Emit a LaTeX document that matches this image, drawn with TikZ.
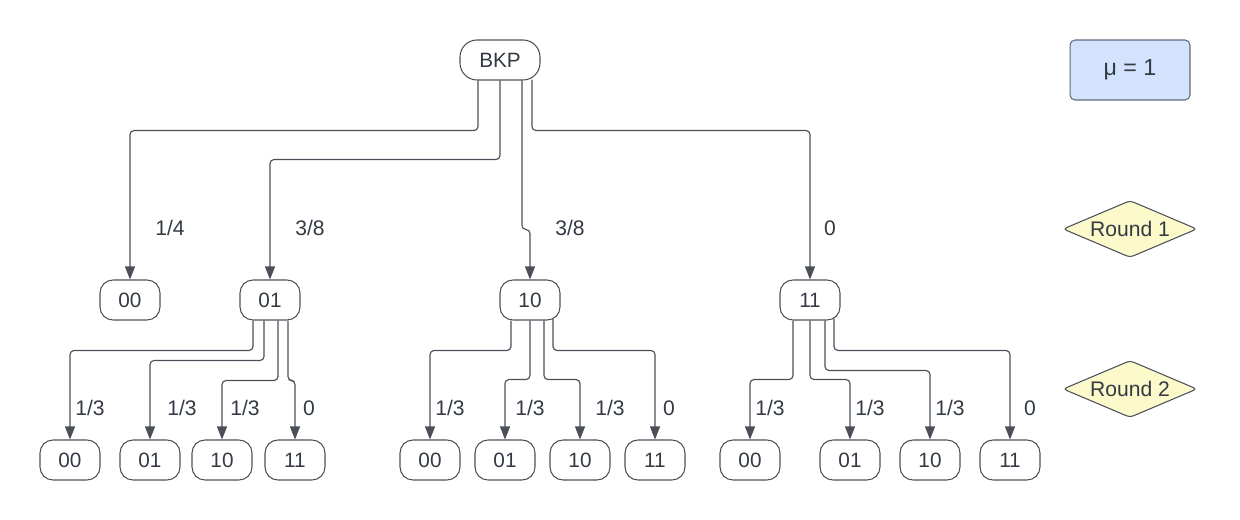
\documentclass[tikz,border=0pt]{standalone}
\usepackage{fontspec}
\setmainfont{Liberation Sans}
\usetikzlibrary{arrows.meta, shapes.geometric, calc}

\definecolor{edgegray}{HTML}{4B5058}
\definecolor{textgray}{HTML}{333A44}
\definecolor{mufill}{HTML}{D3E3FD}
\definecolor{muborder}{HTML}{5F6B7C}
\definecolor{roundfill}{HTML}{FCF9CB}

\begin{document}
\begin{tikzpicture}[x=0.02cm, y=-0.02cm,
            state/.style={draw=edgegray, line width=0.6pt, rounded corners=0.26cm,
                          minimum width=1.2cm, minimum height=0.8cm, inner sep=0pt,
                          text=textgray, font=\fontsize{11.8}{14}\selectfont},
            arr/.style={-{Triangle[width=0.2cm, length=0.26cm]}, draw=edgegray,
                        line width=0.65pt, rounded corners=0.08cm},
            lab/.style={text=textgray, inner sep=0pt, font=\fontsize{12}{14}\selectfont},
            mubox/.style={draw=muborder, fill=mufill, line width=0.6pt, rounded corners=0.1cm,
                          minimum width=2.4cm, minimum height=1.2cm,
                          text=textgray, font=\fontsize{13.2}{15}\selectfont},
            roundbox/.style={diamond, aspect=2.35, draw=edgegray, fill=roundfill,
                             line width=0.6pt, rounded corners=2pt, inner sep=0pt,
                             minimum width=2.68cm, minimum height=1.14cm,
                             text=textgray, font=\fontsize{12}{14}\selectfont}
        ]
        \useasboundingbox (0,0) rectangle (1240,520);

        % Root
        \node[state, minimum width=1.6cm, rounded corners=0.34cm] (bkp) at (500,60) {BKP};

        % Round 1 nodes
        \node[state] (c00) at (130,300) {00};
        \node[state] (c01) at (270,300) {01};
        \node[state] (c10) at (530,300) {10};
        \node[state] (c11) at (810,300) {11};

        % Round 2 nodes
        \node[state] (d0100) at (70,460) {00};
        \node[state] (d0101) at (150,460) {01};
        \node[state] (d0110) at (222,460) {10};
        \node[state] (d0111) at (295,460) {11};

        \node[state] (d1000) at (430,460) {00};
        \node[state] (d1001) at (505,460) {01};
        \node[state] (d1010) at (580,460) {10};
        \node[state] (d1011) at (655,460) {11};

        \node[state] (d1100) at (750,460) {00};
        \node[state] (d1101) at (850,460) {01};
        \node[state] (d1110) at (930,460) {10};
        \node[state] (d1111) at (1010,460) {11};

        % Legend
        \node[mubox] (mu) at (1130,70) {μ = 1};
        \node[roundbox] (rnd1) at (1130,229) {Round 1};
        \node[roundbox] (rnd2) at (1130,389) {Round 2};

        % BKP to round 1
        \draw[arr] ($(bkp.south)+(-22,0)$) -- ++(0,50) -| (c00.north);
        \draw[arr] ($(bkp.south)+(0,0)$) -- ++(0,79) -| (c01.north);
        \draw[arr] ($(bkp.south)+(22,0)$) -- ++(0,149) -| (c10.north);
        \draw[arr] ($(bkp.south)+(32,-1)$) -- ++(0,51) -| (c11.north);

        \node[lab] (p00) at (170,228) {1/4};
        \node[lab] (p01) at (310,228) {3/8};
        \node[lab] (p10) at (570,228) {3/8};
        \node[lab] (p11) at (830,228) {0};

        % 01 to round 2
        \draw[arr] ($(c01.south)+(-17,0)$) -- ++(0,30) -| (d0100.north);
        \draw[arr] ($(c01.south)+(-6,0)$) -- ++(0,40) -| (d0101.north);
        \draw[arr] ($(c01.south)+(8,0)$) -- ++(0,60) -| (d0110.north);
        \draw[arr] ($(c01.south)+(18,0)$) -- ++(0,60) -| (d0111.north);

        \node[lab] (p0100) at (90,408) {1/3};
        \node[lab] (p0101) at (182,408) {1/3};
        \node[lab] (p0110) at (245,408) {1/3};
        \node[lab] (p0111) at (309,408) {0};

        % 10 to round 2
        \draw[arr] ($(c10.south)+(-19,0)$) -- ++(0,30) -| (d1000.north);
        \draw[arr] ($(c10.south)+(0,0)$) -- ++(0,59) -| (d1001.north);
        \draw[arr] ($(c10.south)+(14,0)$) -- ++(0,59) -| (d1010.north);
        \draw[arr] ($(c10.south)+(23,-1.6)$) -- ++(0,31.6) -| (d1011.north);

        \node[lab] (p1000) at (450,408) {1/3};
        \node[lab] (p1001) at (530,408) {1/3};
        \node[lab] (p1010) at (610,408) {1/3};
        \node[lab] (p1011) at (669,408) {0};

        % 11 to round 2
        \draw[arr] ($(c11.south)+(-17,0)$) -- ++(0,59) -| (d1100.north);
        \draw[arr] ($(c11.south)+(0,0)$) -- ++(0,59) -| (d1101.north);
        \draw[arr] ($(c11.south)+(15,0)$) -- ++(0,50) -| (d1110.north);
        \draw[arr] ($(c11.south)+(24,-2.1)$) -- ++(0,32.1) -| (d1111.north);

        \node[lab] (p1100) at (770,408) {1/3};
        \node[lab] (p1101) at (870,408) {1/3};
        \node[lab] (p1110) at (950,408) {1/3};
        \node[lab] (p1111) at (1030,408) {0};

        \end{tikzpicture}
\end{document}
